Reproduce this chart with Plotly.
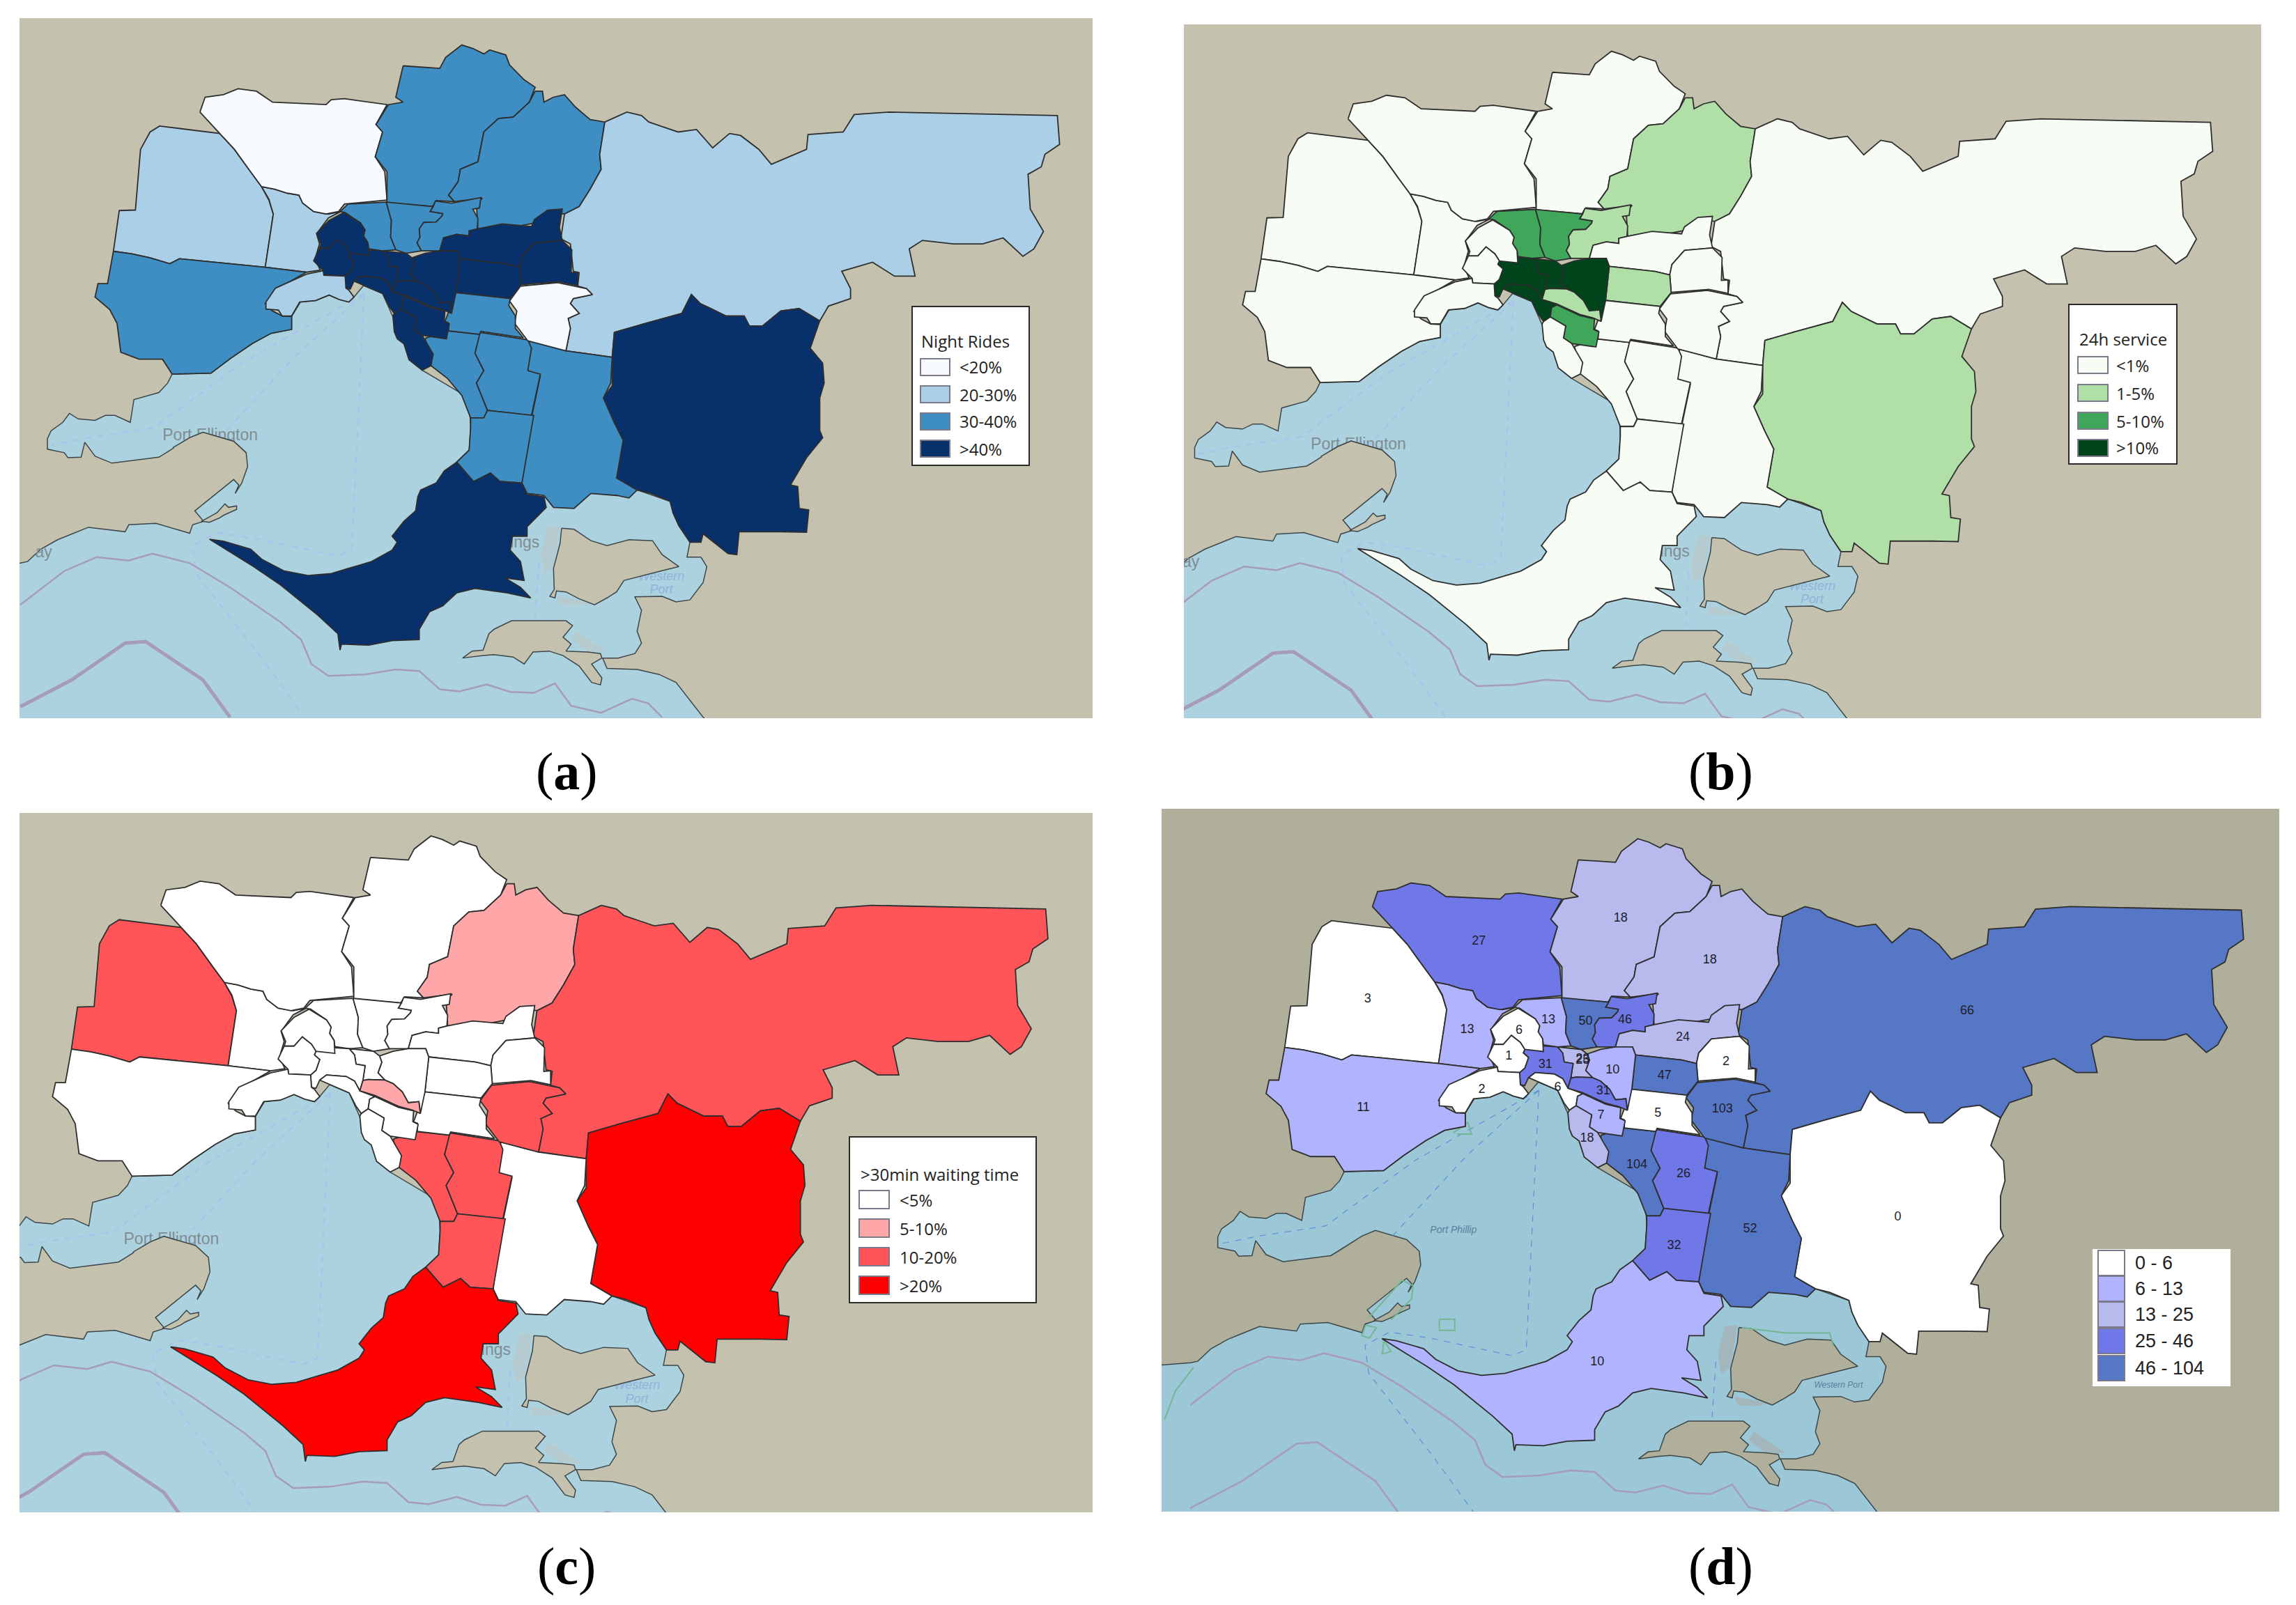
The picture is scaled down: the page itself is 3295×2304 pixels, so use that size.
import plotly.graph_objects as go

# outlines, in one shared map unit
melton = [(155,505),(163,423),(185,422),(190,340),(192,300),(205,265),(218,253),(300,268),(320,300),(342,345),(357,375),(367,402),(373,430),(362,537),(245,520),(232,530),(205,518),(180,510)]
brimbank = [(362,537),(373,430),(367,400),(357,375),(375,380),(392,388),(408,392),(413,408),(428,425),(448,430),(465,425),(448,438),(432,470),(436,490),(430,520),(437,543),(418,547)]
wyndham = [(155,505),(180,510),(205,518),(232,530),(245,520),(362,537),(418,547),(385,575),(362,610),(372,625),(385,635),(398,636),(398,662),(370,670),(345,690),(315,720),(288,750),(235,752),(222,722),(190,722),(165,708),(160,650),(150,622),(130,597),(134,570),(147,570)]
hume = [(273,225),(280,195),(305,190),(325,178),(350,183),(372,205),(445,210),(452,200),(470,198),(528,210),(513,250),(522,265),(512,315),(525,345),(528,402),(470,410),(462,425),(445,430),(428,425),(413,408),(408,392),(392,388),(375,380),(357,375),(342,345),(320,300),(300,268)]
whittlesea = [(550,132),(600,137),(608,115),(630,90),(645,97),(660,108),(668,100),(690,110),(695,130),(715,160),(730,175),(722,205),(700,235),(680,238),(660,265),(652,325),(628,340),(625,365),(612,392),(620,405),(595,403),(590,415),(528,407),(528,345),(512,315),(522,265),(513,250),(530,210),(550,205),(540,195)]
nillumbik = [(730,183),(740,183),(742,205),(755,195),(770,190),(785,215),(805,240),(825,245),(818,310),(820,340),(805,380),(790,415),(770,430),(750,425),(740,445),(705,455),(670,455),(652,460),(650,410),(658,398),(620,405),(612,392),(625,365),(628,340),(652,325),(660,265),(680,238),(700,235),(722,205)]
yarra_ranges = [(825,245),(855,225),(875,232),(885,245),(905,255),(925,265),(950,260),(972,297),(995,268),(1010,272),(1035,300),(1052,330),(1100,300),(1102,270),(1150,265),(1165,230),(1212,225),(1442,232),(1445,290),(1425,310),(1420,335),(1402,350),(1405,420),(1423,465),(1410,500),(1395,515),(1368,478),(1340,490),(1300,490),(1258,483),(1240,500),(1248,555),(1220,555),(1190,527),(1148,545),(1160,580),(1160,600),(1130,615),(1118,645),(1090,620),(1065,625),(1040,655),(1022,655),(1015,635),(990,635),(955,610),(943,592),(930,630),(880,650),(838,668),(835,718),(772,705),(778,660),(775,640),(790,630),(778,610),(782,600),(808,592),(800,580),(788,575),(790,548),(782,545),(778,490),(765,480),(770,430),(790,415),(805,380),(820,340),(818,310)]
cardinia = [(838,668),(880,650),(930,630),(943,592),(955,610),(990,635),(1015,635),(1022,655),(1040,655),(1065,625),(1090,620),(1118,645),(1105,700),(1122,730),(1124,770),(1118,800),(1118,865),(1122,880),(1100,920),(1078,975),(1088,978),(1090,1022),(1103,1025),(1100,1070),(1064,1069),(1008,1069),(1005,1115),(993,1113),(959,1073),(956,1090),(941,1090),(926,1057),(918,1031),(914,1008),(888,992),(869,985),(841,961),(850,885),(838,850),(823,800),(835,775),(835,718)]
casey = [(722,685),(772,705),(835,718),(833,770),(823,800),(838,850),(850,885),(841,961),(869,985),(858,1001),(841,996),(806,992),(783,1022),(755,1020),(742,996),(719,992),(712,971),(725,840),(737,755),(720,745)]
kingston = [(580,680),(610,665),(655,672),(648,710),(660,745),(650,770),(665,825),(660,840),(642,840),(630,795),(610,760),(588,735)]
dandenong = [(655,668),(720,683),(725,700),(720,745),(737,752),(725,835),(665,825),(650,770),(660,745),(648,710)]
frankston = [(665,825),(728,835),(712,971),(682,968),(669,951),(646,968),(623,929),(640,905),(642,860),(642,840),(660,840)]
mornington = [(623,929),(646,968),(669,951),(682,968),(712,971),(719,994),(742,999),(745,1020),(719,1059),(719,1078),(699,1078),(696,1106),(710,1129),(715,1167),(689,1162),(710,1181),(724,1202),(692,1192),(648,1183),(623,1192),(604,1218),(586,1230),(572,1265),(572,1286),(535,1288),(503,1297),(466,1295),(464,1307),(461,1274),(434,1237),(383,1176),(346,1139),(286,1084),(305,1088),(342,1104),(358,1125),(388,1148),(420,1157),(452,1153),(507,1129),(535,1106),(542,1090),(535,1078),(551,1048),(567,1027),(570,999),(574,985),(595,971),(606,947)]
moreland = [(464,425),(475,410),(527,406),(534,443),(533,476),(540,502),(522,504),(503,500),(502,488),(496,474),(498,462),(492,448),(471,427)]
darebin = [(527,406),(591,415),(587,425),(604,429),(603,434),(595,446),(578,447),(572,460),(573,476),(569,488),(575,504),(554,509),(540,502),(533,476),(534,443)]
banyule = [(594,404),(616,408),(656,397),(654,418),(645,420),(652,439),(651,460),(640,464),(640,474),(623,471),(605,478),(600,504),(575,504),(569,488),(573,476),(572,460),(578,447),(595,446),(603,434),(604,429),(587,425),(591,415)]
manningham = [(651,460),(685,450),(725,455),(729,441),(747,422),(767,420),(763,457),(767,483),(729,488),(712,516),(709,537),(689,530),(627,520),(623,504),(600,504),(605,478),(623,471),(640,474),(640,464)]
maroondah = [(729,488),(767,483),(780,502),(779,548),(788,547),(788,574),(762,566),(711,572),(709,537),(712,516)]
knox = [(710,575),(760,568),(800,580),(808,592),(782,600),(778,610),(790,630),(775,640),(778,660),(772,705),(720,685),(702,650),(705,625),(695,605)]
whitehorse = [(627,520),(689,530),(709,537),(711,572),(696,600),(622,588)]
monash = [(622,588),(696,600),(694,614),(703,635),(703,660),(714,679),(656,666),(654,672),(612,665),(612,649),(607,646)]
boroondara = [(562,518),(580,509),(600,504),(623,504),(627,520),(622,588),(616,630),(614,607),(600,609),(592,588),(580,572),(569,565),(560,551),(565,530)]
yarra = [(522,504),(554,509),(562,518),(565,530),(560,551),(569,565),(547,564),(540,566),(543,537),(531,534),(529,516)]
melbourne = [(478,509),(503,502),(522,504),(529,516),(531,534),(543,537),(540,566),(536,586),(529,567),(518,558),(492,555),(483,565),(478,581),(472,579),(471,555),(478,546),(483,525),(476,516)]
port_phillip = [(483,565),(492,555),(518,558),(529,567),(536,586),(556,597),(549,602),(547,621),(538,630),(531,616),(522,590),(496,574)]
stonnington = [(540,566),(547,564),(569,565),(580,572),(592,588),(600,609),(614,607),(616,630),(605,623),(587,616),(556,595),(536,586)]
glen_eira = [(556,597),(587,618),(607,625),(606,646),(613,651),(609,681),(576,674),(565,663),(568,639),(547,621),(549,602)]
bayside = [(547,621),(568,639),(565,663),(576,674),(591,712),(588,735),(576,744),(558,723),(551,691),(542,681),(538,667),(536,635),(538,630)]
moonee = [(469,427),(492,448),(498,462),(496,474),(502,488),(503,513),(478,509),(472,495),(460,481),(449,499),(436,499),(438,490),(432,469),(449,443)]
maribyrnong = [(436,499),(449,499),(460,481),(472,495),(478,509),(476,516),(483,525),(478,546),(471,555),(442,553),(441,544),(428,524)]
hobsons = [(418,551),(441,544),(442,553),(471,555),(472,579),(476,583),(483,597),(476,607),(463,602),(449,593),(431,604),(409,607),(398,635),(385,635),(380,623),(363,621),(363,607),(376,579)]

regions = [melton, brimbank, wyndham, hume, whittlesea, nillumbik, yarra_ranges, cardinia, casey, kingston, dandenong,
           frankston, mornington, moreland, darebin, banyule, manningham, maroondah, knox, whitehorse, monash,
           boroondara, yarra, melbourne, port_phillip, stonnington, glen_eira, bayside, moonee, maribyrnong, hobsons]

# class of each region, same order as regions
night_rides = [1,1,2,0,2,2,1,3,2,2,2,2,3,2,2,2,3,3,0,3,2,3,3,3,3,3,3,3,3,3,1]
service_24h = [0,0,0,0,0,1,0,1,0,0,0,0,0,2,2,1,0,0,0,1,0,3,3,3,3,1,2,0,0,0,0]
waiting_30 = [2,0,0,0,0,1,2,3,0,2,2,2,3,0,0,0,0,0,2,0,0,0,0,0,0,1,0,0,0,0,0]
counts = [3,13,11,27,18,18,66,0,52,104,26,32,10,13,50,46,24,2,103,47,5,10,25,31,6,31,7,18,6,1,2]
count_bins = [6,13,25,46,104]

# where the numbers sit in panel d, read in that panel's own crop
label_x = [298,434,292,450,644,766,1118,1023,821,666,730,717,612,545,596,650,729,788,783,704,695,633,592,541,558,620,617,598,505,491,454]
label_y = [416,474,622,306,262,342,438,830,853,731,748,885,1105,456,459,456,489,535,625,562,633,551,532,541,584,591,637,681,476,525,588]

# sea and coast
water = [(-40,1140),(28,1132),(38,1129),(56,1104),(79,1085),(121,1060),(171,1069),(176,1055),(213,1052),(259,1072),(263,1055),(278,1048),(266,1027),(319,964),(326,975),(321,992),(330,971),(338,938),(336,910),(319,887),(277,869),(259,880),(227,910),(217,919),(153,931),(130,917),(116,889),(111,919),(93,920),(88,910),(65,903),(65,882),(70,866),(86,849),(95,831),(107,842),(130,845),(144,835),(157,835),(178,849),(183,803),(217,789),(229,770),(235,752),(288,750),(315,720),(345,690),(370,670),(398,662),(398,636),(410,607),(431,604),(449,593),(463,602),(476,607),(483,597),(496,574),(522,590),(540,650),(576,744),(640,800),(642,860),(640,905),(623,929),(640,990),(745,1000),(790,1000),(830,980),(869,985),(914,1008),(918,1031),(926,1057),(941,1090),(937,1120),(956,1120),(964,1139),(959,1171),(941,1206),(922,1210),(903,1199),(866,1200),(875,1227),(869,1269),(875,1293),(866,1314),(843,1323),(822,1323),(828,1344),(869,1346),(899,1356),(922,1372),(959,1442),(1000,1500),(-40,1500)]
french_island = [(766,1062),(783,1064),(806,1087),(828,1097),(858,1085),(890,1087),(903,1115),(926,1139),(888,1153),(851,1167),(841,1190),(828,1202),(811,1216),(790,1204),(772,1190),(759,1188),(757,1202),(750,1199),(756,1185),(755,1143),(764,1092)]
phillip_island = [(631,1323),(644,1309),(659,1307),(667,1274),(674,1265),(698,1248),(772,1248),(781,1258),(768,1281),(779,1295),(772,1309),(802,1311),(819,1314),(821,1323),(807,1335),(821,1363),(819,1377),(807,1372),(790,1339),(768,1318),(749,1309),(727,1311),(715,1335),(700,1321),(674,1316),(659,1318)]
swan_island = [(296,1031),(307,1013),(312,1020),(323,1017),(323,1024),(305,1036),(300,1041),(286,1050),(275,1048)]
bellarine_patch = [(236,900),(259,880),(277,869),(319,887),(336,910),(300,930)]
shoal_1 = [(747,1059),(764,1057),(755,1139),(742,1155),(738,1115)]
shoal_2 = [(760,1199),(809,1213),(787,1218),(764,1216)]
shoal_3 = [(787,1269),(828,1311),(802,1311),(779,1285)]
ferry_1 = [(497,590),(330,730),(210,860),(120,880),(70,895)]
ferry_2 = [(497,590),(400,720),(300,880)]
ferry_3 = [(497,590),(480,1106),(461,1118),(351,1083),(296,1071),(263,1097),(268,1153),(351,1311),(411,1433)]
ferry_4 = [(735,1130),(730,1240)]
depth_thin = [(28,1216),(88,1148),(132,1120),(176,1127),(208,1113),(259,1132),(314,1181),(383,1251),(411,1286),(425,1335),(448,1359),(498,1356),(540,1346),(572,1349),(600,1386),(627,1390),(664,1376),(696,1391),(728,1393),(757,1374),(779,1419),(820,1433),(862,1405),(884,1414),(903,1442)]
depth_thick = [(28,1421),(98,1367),(171,1293),(199,1290),(277,1367),(314,1442)]

# reserve outlines that only panel d shows, read in that panel's own crop
green_d = [
    [(300,1020),(345,950),(360,960),(358,985),(330,1025)],
    [(396,1024),(417,1024),(417,1045),(396,1045),(396,1024)],
    [(20,1215),(35,1160),(60,1115)],
    [(810,1040),(870,1050),(930,1050),(935,1075)],
    [(295,1035),(310,1040),(300,1060),(290,1055),(295,1035)],
    [(320,1065),(330,1085),(318,1090),(320,1065)],
    [(415,670),(435,650),(440,672),(420,672)],
]

W = 3295
H = 2304
BODY = 8  # the page puts the plot 8 px in


def fx(v):
    return (v - BODY) / W


def fy(v):
    return 1 - (v - BODY) / H


def d_to_map(x, y):
    return 131 + (x - 160) / 1.0168, 87 + (y - 108) / 0.9557


panels = [
    dict(name="a", box=(28,1568,26,1031), xr=(27,1490), yr=(1444,36), land="#c4c2ae", sea="#acd2e0",
         classes=night_rides, colors=["#f7fbff","#abcfe6","#3e8ec4","#08306b"]),
    dict(name="b", box=(1699,3245,35,1031), xr=(50.4,1510.7), yr=(1423,36.3), land="#c4c2ae", sea="#acd2e0",
         classes=service_24h, colors=["#f7fcf5","#b0e0a8","#3fa65a","#00441b"]),
    dict(name="c", box=(28,1568,1167,2171), xr=(86.4,1504), yr=(1406,45.3), land="#c4c2ae", sea="#acd2e0",
         classes=waiting_30, colors=["#ffffff","#ffa6a8","#ff5558","#ff0000"]),
    dict(name="d", box=(1667,3271,1161,2170), xr=(-10.6,1493), yr=(1428,30.5), land="#b0af9b", sea="#9cc7d6",
         classes=None, colors=["#ffffff","#b0b3fd","#b8baee","#7077e6","#5676c6"]),
]

fig = go.Figure()
layout = dict(width=W, height=H, margin=dict(l=0,r=0,t=0,b=0), paper_bgcolor="white", showlegend=False,
              hovermode=False, shapes=[], annotations=[])


def add_poly(pts, axis, fill, line="#2e2e2e", width=1.8):
    xs = [p[0] for p in pts] + [pts[0][0]]
    ys = [p[1] for p in pts] + [pts[0][1]]
    fig.add_trace(go.Scatter(x=xs, y=ys, mode="lines", fill="toself", fillcolor=fill,
                             line=dict(color=line, width=width), xaxis=axis[0], yaxis=axis[1]))


def add_line(pts, axis, color, width, dash="solid"):
    fig.add_trace(go.Scatter(x=[p[0] for p in pts], y=[p[1] for p in pts], mode="lines",
                             line=dict(color=color, width=width, dash=dash), xaxis=axis[0], yaxis=axis[1]))


def add_text(x, y, s, axis, size, color):
    fig.add_trace(go.Scatter(x=[x], y=[y], mode="text", text=[s], textposition="middle center",
                             textfont=dict(size=size, color=color, family="Liberation Sans"),
                             xaxis=axis[0], yaxis=axis[1]))


for i, p in enumerate(panels):
    n = "" if i == 0 else str(i + 1)
    axis = ("x" + n, "y" + n)
    x0, x1, y0, y1 = p["box"]
    layout["xaxis" + n] = dict(domain=[fx(x0), fx(x1)], range=list(p["xr"]), visible=False, anchor=axis[1])
    layout["yaxis" + n] = dict(domain=[fy(y1), fy(y0)], range=list(p["yr"]), visible=False, anchor=axis[0])
    layout["shapes"].append(dict(type="rect", xref="paper", yref="paper", x0=fx(x0), x1=fx(x1), y0=fy(y1),
                                 y1=fy(y0), fillcolor=p["land"], line=dict(width=0), layer="below"))
    is_d = p["name"] == "d"

    add_poly(water, axis, p["sea"], "#3c4648", 1.5)
    for shoal in [shoal_1, shoal_2, shoal_3]:
        add_poly(shoal, axis, "#a3b6bb" if is_d else "#b6cbcf", "rgba(0,0,0,0)", 0)
    # sea names go under the islands so the land hides part of them
    if not is_d:
        add_text(902, 1160, "<i>Western</i>", axis, 18, "#8fb4d8")
        add_text(902, 1187, "<i>Port</i>", axis, 18, "#8fb4d8")
    add_poly(french_island, axis, p["land"], "#3c4648", 1.5)
    add_poly(phillip_island, axis, p["land"], "#3c4648", 1.5)
    add_poly(swan_island, axis, p["land"], "#3c4648", 1.5)

    route = "#5b8fd8" if is_d else "#a9c4ea"
    route_w = 1.2 if is_d else 2.5
    for ferry in [ferry_1, ferry_2, ferry_3, ferry_4]:
        add_line(ferry, axis, route, route_w, "dash")
    add_line(depth_thin, axis, "#a69cb8", 2.5)
    add_line(depth_thick, axis, "#a69cb8", 2.5 if is_d else 5)

    if is_d:
        add_text(382, 869, "<i>Port Phillip</i>", axis, 14, "#5a7f9a")
        add_text(900, 1177, "<i>Western Port</i>", axis, 12, "#5a7f9a")
        for g in green_d:
            add_line([d_to_map(*q) for q in g], axis, "#76b596", 2)
    else:
        add_text(287, 877, "Port Ellington", axis, 23, "#7f8d92")
        add_poly(bellarine_patch, axis, p["land"], p["land"], 0)
        add_line([(236,900),(259,880),(277,869),(319,887),(336,910)], axis, "#3c4648", 1.5)
        add_text(716, 1092, "ings", axis, 23, "#7f8d92")
        if p["name"] != "c":
            add_text(60, 1113, "ay", axis, 23, "#7f8d92")

    for j, reg in enumerate(regions):
        if p["classes"] is None:
            k = next(b for b, top in enumerate(count_bins) if counts[j] <= top)
        else:
            k = p["classes"][j]
        add_poly(reg, axis, p["colors"][k])

    if is_d:
        for j, v in enumerate(counts):
            lx, ly = d_to_map(label_x[j], label_y[j])
            add_text(lx, ly, str(v), axis, 18, "#1e1e2a")
        lx, ly = d_to_map(592, 530)
        add_text(lx, ly, "23", axis, 18, "#1e1e2a")

# legends, sizes in page pixels
legends = [
    dict(box=(1309,1477,440,668), title="Night Rides", tx=1320, ty=490, sx=(1321,1363), rows=[527,566,605,644],
         h=24, text_x=1375, labels=["<20%","20-30%","30-40%",">40%"], colors=panels[0]["colors"]),
    dict(box=(2969,3124,437,666), title="24h service", tx=2982, ty=486, sx=(2982,3025), rows=[524,564,604,643],
         h=24, text_x=3035, labels=["<1%","1-5%","5-10%",">10%"], colors=panels[1]["colors"]),
    dict(box=(1219,1487,1632,1870), title=">30min waiting time", tx=1233, ty=1685, sx=(1233,1276), rows=[1722,1763,1804,1845],
         h=26, text_x=1289, labels=["<5%","5-10%","10-20%",">20%"], colors=panels[2]["colors"]),
    dict(box=(3004,3200,1794,1989), title=None, tx=0, ty=0, sx=(3011,3049), rows=[1813,1850,1887,1925,1964],
         h=36, text_x=3062, labels=["0 - 6","6 - 13","13 - 25","25 - 46","46 - 104"], colors=panels[3]["colors"]),
]

for leg in legends:
    x0, x1, y0, y1 = leg["box"]
    is_d = leg["title"] is None
    layout["shapes"].append(dict(type="rect", xref="paper", yref="paper", x0=fx(x0), x1=fx(x1), y0=fy(y1), y1=fy(y0),
                                 fillcolor="white", line=dict(color="white" if is_d else "#2a2a2a", width=2), layer="above"))
    font = dict(size=27, color="#222222", family="Liberation Sans") if is_d else dict(size=24, color="#222222", family="Open Sans")
    if not is_d:
        layout["annotations"].append(dict(xref="paper", yref="paper", x=fx(leg["tx"]), y=fy(leg["ty"]), text=leg["title"],
                                          showarrow=False, xanchor="left", yanchor="middle", font=font))
    for yc, lab, col in zip(leg["rows"], leg["labels"], leg["colors"]):
        layout["shapes"].append(dict(type="rect", xref="paper", yref="paper", x0=fx(leg["sx"][0]), x1=fx(leg["sx"][1]),
                                     y0=fy(yc + leg["h"] / 2), y1=fy(yc - leg["h"] / 2), fillcolor=col,
                                     line=dict(color="#7a7a8a", width=2), layer="above"))
        layout["annotations"].append(dict(xref="paper", yref="paper", x=fx(leg["text_x"]), y=fy(yc), text=lab,
                                          showarrow=False, xanchor="left", yanchor="middle", font=font))

# captions under the panels
captions = ["(<b>a</b>)", "(<b>b</b>)", "(<b>c</b>)", "(<b>d</b>)"]
cap_x = [813, 2469, 813, 2469]
cap_y = [1107, 1107, 2248, 2248]
for s, cx, cy in zip(captions, cap_x, cap_y):
    layout["annotations"].append(dict(xref="paper", yref="paper", x=fx(cx), y=fy(cy), text=s, showarrow=False,
                                      xanchor="center", yanchor="middle",
                                      font=dict(size=76, color="black", family="Liberation Serif")))

fig.update_layout(**layout)
fig.write_html("out.html")
